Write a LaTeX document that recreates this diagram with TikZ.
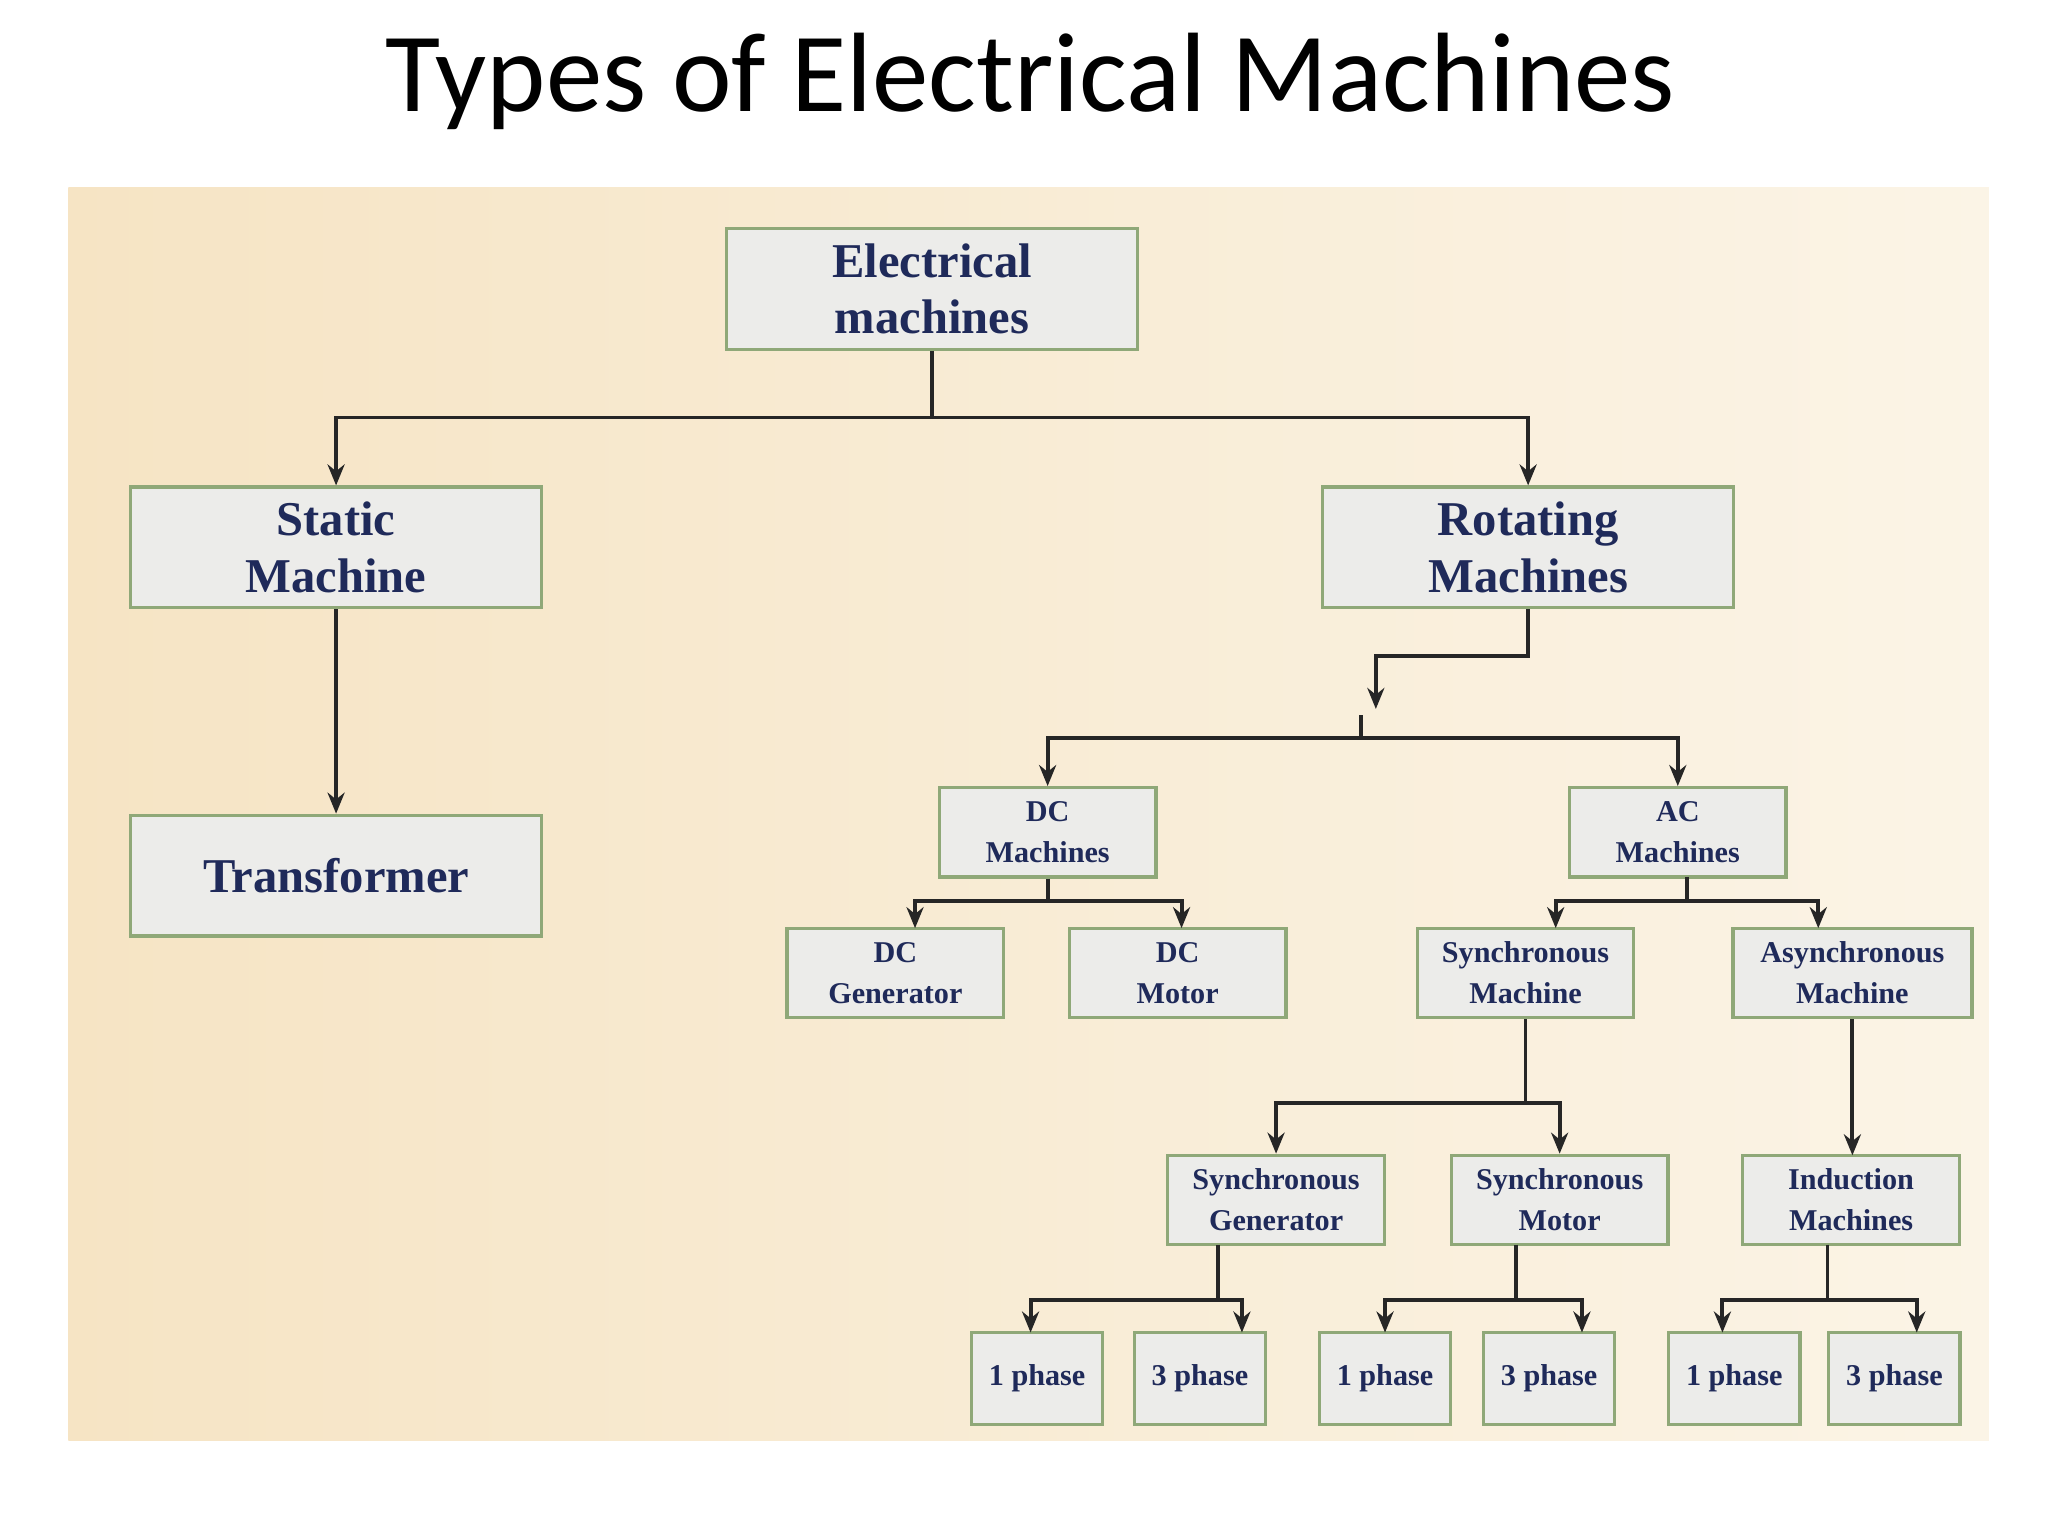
\documentclass[tikz,border=0pt]{standalone}
\usepackage{fontspec}
\setmainfont{Liberation Serif}
\newfontfamily\titlefont{Carlito}
\usetikzlibrary{arrows.meta}
\definecolor{ink}{HTML}{1F2A5A}
\definecolor{edge}{HTML}{8FA878}
\definecolor{boxfill}{HTML}{ECECEA}
\tikzset{
 bx/.style={draw=edge,line width=2.5pt,fill=boxfill,align=center,text=ink,font=\bfseries,inner sep=0pt},
 big/.style={bx,minimum width=313pt,minimum height=92pt,font=\bfseries\fontsize{37}{43}\selectfont},
 mid/.style={bx,minimum width=165pt,minimum height=68pt,font=\bfseries\fontsize{23}{31}\selectfont},
 ph/.style={bx,minimum width=100pt,minimum height=70pt,font=\bfseries\fontsize{23}{28}\selectfont},
 ln/.style={line width=3pt,black!85},
 ar/.style={ln,-{Stealth[length=16pt,width=13pt]}}
}
\begin{document}
\begin{tikzpicture}[x=1pt,y=-1pt]
\useasboundingbox (0,0) rectangle (1560,1170);
\fill[white] (0,0) rectangle (1560,1170);
\shade[left color={rgb,255:red,246;green,228;blue,196},right color={rgb,255:red,251;green,244;blue,230}] (52,143) rectangle (1515,1097);
\node[font=\titlefont\fontsize{86}{90}\selectfont] (title) at (785,62) {Types of Electrical Machines};
\node[big] (em) at (710,220) {Electrical\\machines};
\node[big] (sm) at (256,417) {Static\\Machine};
\node[big] (rm) at (1164,417) {Rotating\\Machines};
\node[big] (tr) at (256,667) {Transformer};
\node[mid] (dc) at (798,634) {DC\\Machines};
\node[mid] (ac) at (1278,634) {AC\\Machines};
\node[mid] (dcg) at (682,741) {DC\\Generator};
\node[mid] (dcm) at (897,741) {DC\\Motor};
\node[mid] (syn) at (1162,741) {Synchronous\\Machine};
\node[mid,minimum width=182pt] (asy) at (1411,741) {Asynchronous\\Machine};
\node[mid] (sg) at (972,914) {Synchronous\\Generator};
\node[mid] (smo) at (1188,914) {Synchronous\\Motor};
\node[mid] (im) at (1410,914) {Induction\\Machines};
\node[ph] (p1) at (790,1050) {1 phase};
\node[ph] (p2) at (914,1050) {3 phase};
\node[ph] (p3) at (1055,1050) {1 phase};
\node[ph] (p4) at (1180,1050) {3 phase};
\node[ph] (p5) at (1321,1050) {1 phase};
\node[ph] (p6) at (1443,1050) {3 phase};
% connectors
\coordinate (j1) at (710,318);
\draw[ln] (em.south) -- (j1);
\draw[ar] (j1) -| (sm.north);
\draw[ar] (j1) -| (rm.north);
\draw[ar] (sm.south) -- (tr.north);
\coordinate (j2) at (1048,500);
\draw[ar] (rm.south) |- (j2) -- (1048,540);
\coordinate (j3) at (1037,562);
\draw[ln] (1037,545) -- (j3);
\draw[ar] (j3) -| (dc.north);
\draw[ar] (j3) -| (ac.north);
\coordinate (j4) at (798,686);
\draw[ln] (dc.south) -- (j4);
\draw[ar] (j4) -| (697,707);
\draw[ar] (j4) -| (900,707);
\coordinate (j5) at (1285,686);
\draw[ln] (1285,668) -- (j5);
\draw[ar] (j5) -| (1185,707);
\draw[ar] (j5) -| (1385,707);
\coordinate (j6) at (1162,840);
\draw[ln] (syn.south) -- (j6);
\draw[ar] (j6) -| (sg.north);
\draw[ar] (j6) -| (smo.north);
\draw[ar] (asy.south) -- (1411,880);
\coordinate (j7) at (928,990);
\draw[ln] (928,948) -- (j7);
\draw[ar] (j7) -| (785,1015);
\draw[ar] (j7) -| (946,1015);
\coordinate (j8) at (1155,990);
\draw[ln] (1155,948) -- (j8);
\draw[ar] (j8) -| (1055,1015);
\draw[ar] (j8) -| (1205,1015);
\coordinate (j9) at (1392,990);
\draw[ln] (1392,948) -- (j9);
\draw[ar] (j9) -| (1312,1015);
\draw[ar] (j9) -| (1460,1015);
\end{tikzpicture}
\end{document}
